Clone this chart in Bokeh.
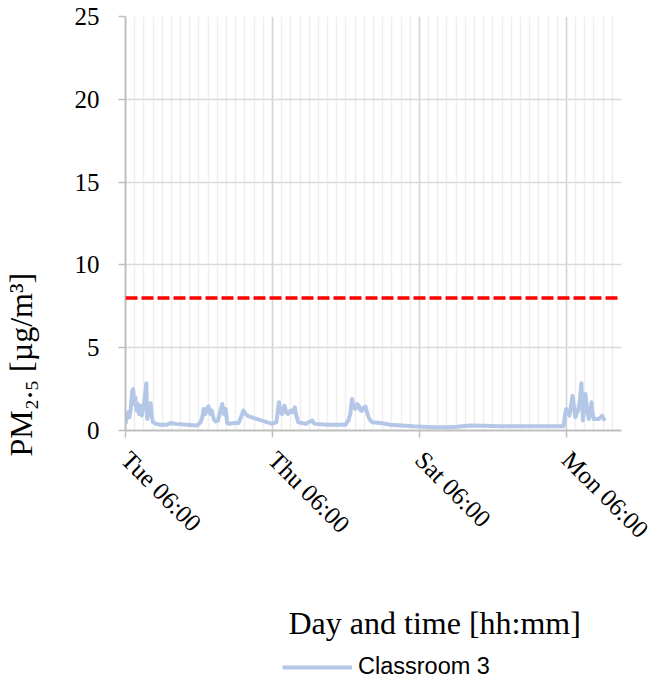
import math
from bokeh.plotting import figure
from bokeh.models import (Range1d, FixedTicker, Span, Label, Legend, LegendItem)
from bokeh.layouts import column, row
from bokeh.embed import file_html
from bokeh.resources import INLINE

# Hours since Tue 06:00 and PM2.5 concentration (µg/m3), Classroom 3
hours = [0, 0.5, 0.9, 1.3, 1.7, 2.2, 2.5, 2.9, 3.2, 3.6, 4.0, 4.4, 4.9, 5.3, 5.8, 6.3, 6.8,
         7.1, 7.5, 8.2, 8.6, 9.0, 10.0, 11.4, 13.6, 14.7, 16.3, 20.0, 23.4, 24.5, 25.1,
         25.5, 26.1, 26.6, 27.1, 27.7, 28.2, 28.8, 29.4, 30.2, 31.0, 31.6, 32.1, 32.7,
         33.2, 34.0, 35.3, 36.9, 37.5, 38.1, 38.5, 39.2, 40.2, 44.6, 47.9, 49.3, 50.1,
         50.6, 51.2, 51.6, 51.9, 52.5, 53.1, 53.9, 54.6, 55.3, 55.8, 56.4, 58.8, 60.3,
         61.0, 61.5, 62.0, 66.0, 71.8, 72.8, 73.4, 74.0, 74.5, 75.1, 75.7, 76.2, 76.8,
         77.3, 77.8, 78.4, 78.9, 79.4, 80.0, 80.6, 83.3, 86.5, 94.0, 100.0, 107.1, 110.0,
         112.7, 117.0, 122.4, 130.0, 143.1, 143.5, 143.9, 144.5, 145.0, 145.5, 146.0,
         146.5, 146.9, 147.3, 147.8, 148.4, 148.9, 149.4, 149.8, 150.2, 150.8, 151.3,
         151.7, 152.2, 152.6, 152.9, 153.8, 154.6, 155.2, 155.7, 156.2, 156.7]
pm25 = [0.4, 0.9, 1.1, 0.8, 1.3, 2.4, 2.5, 1.6, 2.0, 1.2, 1.6, 1.0, 1.5, 0.9, 1.3, 2.0, 2.85,
        0.7, 1.2, 1.65, 0.8, 0.5, 0.4, 0.35, 0.35, 0.45, 0.4, 0.35, 0.3, 0.5, 0.8,
        1.3, 1.0, 1.35, 1.45, 1.0, 1.2, 0.7, 0.55, 0.6, 1.2, 1.6, 1.0, 1.3,
        0.45, 0.4, 0.45, 0.45, 0.7, 1.0, 1.2, 1.0, 0.85, 0.6, 0.4, 0.5, 1.7,
        1.1, 1.0, 1.3, 1.5, 1.1, 1.0, 1.2, 1.1, 1.4, 0.9, 0.5, 0.4, 0.55,
        0.6, 0.45, 0.4, 0.35, 0.35, 0.6, 1.0, 1.9, 1.4, 1.3, 1.6, 1.5, 1.2,
        1.2, 1.4, 1.45, 1.1, 0.8, 0.6, 0.5, 0.45, 0.35, 0.25, 0.2, 0.2, 0.25,
        0.3, 0.28, 0.25, 0.25, 0.25, 0.9, 1.3, 1.1, 0.9, 1.5, 2.1,
        1.4, 0.8, 1.0, 1.2, 1.8, 2.85, 0.6, 1.5, 2.2, 1.2, 0.7,
        1.0, 1.7, 1.0, 0.7, 0.7, 0.7, 0.8, 0.9, 0.7, 0.6]

limit_value = 8
x_tick_hours = [0, 48, 96, 144]
x_tick_labels = ["Tue 06:00", "Thu 06:00", "Sat 06:00", "Mon 06:00"]
y_ticks = [0, 5, 10, 15, 20, 25]
series_name = "Classroom 3"
x_title = "Day and time [hh:mm]"
y_title = "PM\u2082.\u2085 [\u00b5g/m\u00b3]"

LINE_COLOR = "#b4c7e7"
SERIF = "Liberation Serif"


def blank(width, height):
    f = figure(width=width, height=height, frame_width=width, frame_height=height,
               min_border=0, x_range=Range1d(0, width), y_range=Range1d(0, height),
               x_axis_type=None, y_axis_type=None,
               output_backend="svg", toolbar_location=None)
    f.outline_line_color = None
    f.grid.visible = False
    f.background_fill_color = "white"
    f.border_fill_color = "white"
    return f


# ---------------- main chart ----------------
p = figure(width=584, height=560, frame_width=496, frame_height=414,
           min_border_left=55, min_border_right=33, min_border_top=16, min_border_bottom=130,
           x_range=Range1d(0, 162), y_range=Range1d(0, 25),
           output_backend="svg", toolbar_location=None)
p.outline_line_color = None
p.background_fill_color = "white"
p.border_fill_color = "white"

p.xaxis.ticker = FixedTicker(ticks=x_tick_hours, minor_ticks=list(range(0, 163, 3)))
p.yaxis.ticker = FixedTicker(ticks=y_ticks)
p.xgrid.grid_line_color = "#d4d4d4"
p.xgrid.grid_line_width = 1.5
p.xgrid.minor_grid_line_color = "#efefef"
p.xgrid.minor_grid_line_width = 1.5
p.ygrid.grid_line_color = "#d9d9d9"
p.ygrid.grid_line_width = 1.5

for ax in (p.xaxis[0], p.yaxis[0]):
    ax.axis_line_color = "#bfbfbf"
    ax.axis_line_width = 2
    ax.major_tick_line_color = "#bfbfbf"
    ax.major_tick_line_width = 1.5
    ax.major_tick_out = 7
    ax.major_tick_in = 0
    ax.minor_tick_out = 0
    ax.minor_tick_in = 0
    ax.major_label_text_font = SERIF
    ax.major_label_text_font_size = "25px"
    ax.major_label_text_color = "black"

p.xaxis.major_label_overrides = dict(zip(x_tick_hours, x_tick_labels))
p.xaxis.major_label_orientation = -math.pi / 4
p.xaxis.major_label_standoff = 18
p.yaxis.major_label_standoff = 19

p.add_layout(Span(location=limit_value, dimension="width", line_color="#ff0000",
                  line_width=3.5, line_dash="12 4"))

r = p.line(hours, pm25, line_color=LINE_COLOR, line_width=4, line_join="round")

# ---------------- y title strip ----------------
yfig = blank(70, 560)
yfig.add_layout(Label(x=20, y=560 - 440, text=y_title, angle=math.pi / 2,
                      text_align="left", text_baseline="alphabetic",
                      text_font=SERIF, text_font_size="32px", text_color="black"))

# ---------------- footer: x title + legend ----------------
foot = blank(654, 125)
foot.add_layout(Label(x=288, y=125 - 622 + 560, text=x_title,
                      text_align="left", text_baseline="middle",
                      text_font=SERIF, text_font_size="32px", text_color="black"))
# legend proxy: a single-point line (draws nothing itself, only its legend swatch)
r_leg = foot.line(x=[hours[0]], y=[pm25[0]], line_color=LINE_COLOR, line_width=4)
legend = Legend(items=[LegendItem(label=series_name, renderers=[r_leg])],
                location=(282, 5), orientation="horizontal",
                glyph_width=70, glyph_height=24, label_height=24, label_standoff=6,
                label_text_font="Liberation Sans", label_text_font_size="23.5px",
                label_text_color="black", padding=0, margin=0,
                border_line_color=None, background_fill_alpha=0)
foot.add_layout(legend, "center")

layout = column(row(yfig, p, spacing=0), foot, spacing=0)
open("out.html", "w").write(file_html(layout, INLINE))
